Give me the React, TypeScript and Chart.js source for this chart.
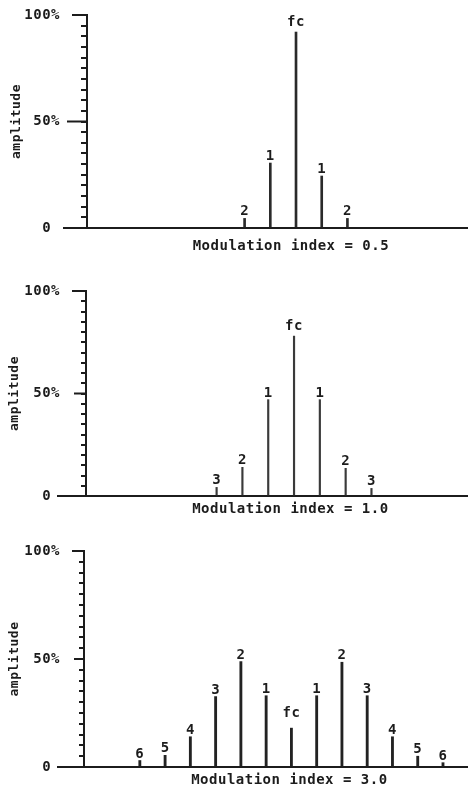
import React, { useEffect, useRef } from 'react';
import { Chart, registerables } from 'chart.js';

Chart.register(...registerables);

const FONT = "'DejaVu Sans Mono', 'Liberation Mono', monospace";
const INK = '#1c1c1c';

// ---- data: panel 1 (modulation index 0.5) ----
const offsets1 = [-2, -1, 0, 1, 2];
const labels1 = ['2', '1', 'fc', '1', '2'];
const amps1 = [4.5, 30.5, 92, 24.4, 4.5];
const title1 = 'Modulation index = 0.5';

// ---- data: panel 2 (modulation index 1.0) ----
const offsets2 = [-3, -2, -1, 0, 1, 2, 3];
const labels2 = ['3', '2', '1', 'fc', '1', '2', '3'];
const amps2 = [4.2, 14, 47, 78, 47, 13.5, 3.7];
const title2 = 'Modulation index = 1.0';

// ---- data: panel 3 (modulation index 3.0) ----
const offsets3 = [-6, -5, -4, -3, -2, -1, 0, 1, 2, 3, 4, 5, 6];
const labels3 = ['6', '5', '4', '3', '2', '1', 'fc', '1', '2', '3', '4', '5', '6'];
const amps3 = [3, 5.4, 14, 32.6, 48.8, 33, 18, 33, 48.5, 33, 14, 5, 2];
const title3 = 'Modulation index = 3.0';

// ---- y axis ticks ----
const yTickValues = [0, 5, 10, 15, 20, 25, 30, 35, 40, 45, 50, 55, 60, 65, 70, 75, 80, 85, 90, 95, 100];
const yLabelValues = [0, 50, 100];
const yLabelTexts = ['0 ', '50%', '100%'];
const yAxisTitle = 'amplitude';

type Spec = {
  offsets: number[];
  amps: number[];
  labels: string[];
  title: string;
  top: number;
  height: number;
  areaTop: number;
  areaBottom: number;
  axisX: number;
  xMin: number;
  xMax: number;
  barWidth: number;
  barColor: string;
  majorLens: number[];
  minorLen: number;
  titlePadBottom: number;
  yTitlePad: number;
  gap: number;
  fcGap: number;
};

const specs: Spec[] = [
  {
    offsets: offsets1, amps: amps1, labels: labels1, title: title1,
    top: 0, height: 263, areaTop: 15, areaBottom: 228, axisX: 87,
    xMin: -8.13, xMax: 6.69, barWidth: 2, barColor: '#2a2a2a',
    majorLens: [24, 20, 15], minorLen: 6, titlePadBottom: 8, yTitlePad: 9, gap: 3, fcGap: 6,
  },
  {
    offsets: offsets2, amps: amps2, labels: labels2, title: title2,
    top: 263, height: 267, areaTop: 28, areaBottom: 233, axisX: 86,
    xMin: -8.06, xMax: 6.74, barWidth: 1.5, barColor: '#3a3a3a',
    majorLens: [29, 12, 14], minorLen: 5, titlePadBottom: 12, yTitlePad: 7, gap: 3, fcGap: 6,
  },
  {
    offsets: offsets3, amps: amps3, labels: labels3, title: title3,
    top: 530, height: 260, areaTop: 21, areaBottom: 237, axisX: 84,
    xMin: -8.21, xMax: 6.99, barWidth: 2.2, barColor: '#222222',
    majorLens: [27, 10, 12], minorLen: 5, titlePadBottom: 1.5, yTitlePad: 7, gap: 3, fcGap: 11,
  },
];

const spacingPlugin = {
  id: 'letterSpacing',
  beforeUpdate(chart: any) {
    (chart.ctx as any).letterSpacing = '0.5px';
  },
  beforeDraw(chart: any) {
    (chart.ctx as any).letterSpacing = '0.5px';
  },
};

const majorTicksPlugin = {
  id: 'majorTicks',
  afterDraw(chart: any, _args: any, opts: any) {
    const y = chart.scales.y;
    const ctx = chart.ctx;
    ctx.save();
    ctx.strokeStyle = INK;
    ctx.lineWidth = 2;
    yLabelValues.forEach((v, i) => {
      const py = y.getPixelForValue(v);
      ctx.beginPath();
      ctx.moveTo(y.right - opts.lengths[i], py);
      ctx.lineTo(y.right + 1, py);
      ctx.stroke();
    });
    ctx.restore();
  },
};

const sideLabelsPlugin = {
  id: 'sideLabels',
  afterDatasetsDraw(chart: any, _args: any, opts: any) {
    const meta = chart.getDatasetMeta(0);
    const ctx = chart.ctx;
    ctx.save();
    ctx.font = `bold 14px ${FONT}`;
    ctx.fillStyle = INK;
    ctx.textAlign = 'center';
    ctx.textBaseline = 'alphabetic';
    meta.data.forEach((el: any, i: number) => {
      const t = opts.labels[i];
      const g = t === 'fc' ? opts.fcGap : opts.gap;
      ctx.fillText(t, el.x, el.y - g);
    });
    ctx.restore();
  },
};

function buildConfig(s: Spec): any {
  return {
    type: 'bar',
    data: {
      datasets: [
        {
          data: s.offsets.map((x, i) => ({ x, y: s.amps[i] })),
          backgroundColor: s.barColor,
          borderWidth: 0,
          barThickness: s.barWidth,
        },
      ],
    },
    plugins: [spacingPlugin, majorTicksPlugin, sideLabelsPlugin],
    options: {
      responsive: false,
      animation: false,
      layout: { padding: { top: s.areaTop, left: 0, right: 0, bottom: 0 } },
      plugins: {
        legend: { display: false },
        tooltip: { enabled: false },
        majorTicks: { lengths: s.majorLens },
        sideLabels: { labels: s.labels, gap: s.gap, fcGap: s.fcGap },
      },
      scales: {
        x: {
          type: 'linear',
          min: s.xMin,
          max: s.xMax,
          offset: false,
          grid: { display: false, drawTicks: false },
          ticks: { display: false },
          border: { display: true, color: INK, width: 2 },
          title: {
            display: true,
            text: '   ' + s.title,
            color: INK,
            font: { family: FONT, size: 14, weight: 'bold' },
            padding: { top: 0, bottom: s.titlePadBottom },
          },
          afterFit: (scale: any) => {
            scale.height = s.height - s.areaBottom;
            scale.paddingLeft = 0;
            scale.paddingRight = 0;
          },
        },
        y: {
          type: 'linear',
          min: 0,
          max: 100,
          afterBuildTicks: (scale: any) => {
            scale.ticks = yTickValues.map((v) => ({ value: v }));
          },
          ticks: {
            autoSkip: false,
            color: INK,
            font: { family: FONT, size: 14, weight: 'bold' },
            padding: s.axisX - 60 - s.minorLen,
            callback: (v: any) => {
              const i = yLabelValues.indexOf(Number(v));
              return i >= 0 ? yLabelTexts[i] : '';
            },
          },
          grid: {
            drawOnChartArea: false,
            drawTicks: true,
            tickLength: s.minorLen,
            lineWidth: 2,
            color: INK,
          },
          border: { display: true, color: INK, width: 2 },
          title: {
            display: true,
            text: yAxisTitle,
            color: INK,
            font: { family: FONT, size: 13, weight: 'bold' },
            padding: { top: s.yTitlePad, bottom: 0 },
          },
          afterFit: (scale: any) => {
            scale.width = s.axisX;
            scale.paddingTop = 0;
            scale.paddingBottom = 0;
          },
        },
      },
    },
  };
}

function Panel({ spec }: { spec: Spec }) {
  const ref = useRef<HTMLCanvasElement>(null);
  useEffect(() => {
    const chart = new Chart(ref.current as HTMLCanvasElement, buildConfig(spec));
    return () => chart.destroy();
  }, [spec]);
  return (
    <canvas
      ref={ref}
      width={468}
      height={spec.height}
      style={{ position: 'absolute', left: 0, top: spec.top, width: 468, height: spec.height, display: 'block' }}
    />
  );
}

export default function App() {
  return (
    <div style={{ position: 'absolute', left: 0, top: 0, width: 468, height: 790, background: '#ffffff' }}>
      {specs.map((s, i) => (
        <Panel key={i} spec={s} />
      ))}
    </div>
  );
}
